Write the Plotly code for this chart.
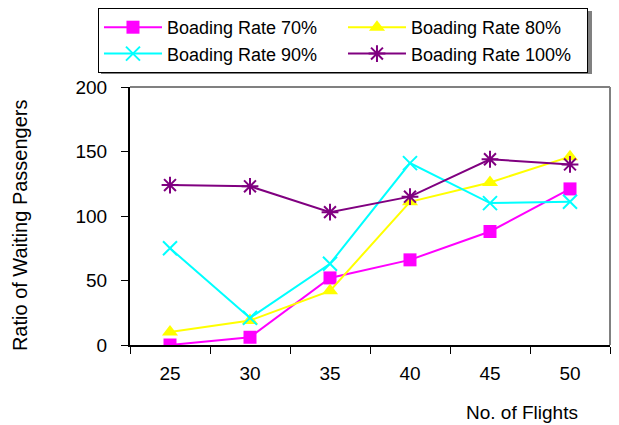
import plotly.graph_objects as go

flights = ["25", "30", "35", "40", "45", "50"]
rate70 = [0, 6, 52, 66, 88, 121]
rate80 = [10, 19, 42, 111, 126, 146]
rate90 = [75, 21, 63, 141, 110, 111]
rate100 = [124, 123, 103, 115, 144, 140]
names = ["Boading Rate 70%", "Boading Rate 80%", "Boading Rate 90%", "Boading Rate 100%"]

FONT = "Liberation Sans, Arial, sans-serif"

fig = go.Figure()
fig.add_trace(go.Scatter(x=flights, y=rate70, name=names[0], mode="lines+markers",
                         line=dict(color="#FF00FF", width=2),
                         marker=dict(symbol="square", size=13, color="#FF00FF")))
fig.add_trace(go.Scatter(x=flights, y=rate80, name=names[1], mode="lines+markers",
                         line=dict(color="#FFFF00", width=2),
                         marker=dict(symbol="triangle-up", size=14, color="#FFFF00")))
fig.add_trace(go.Scatter(x=flights, y=rate90, name=names[2], mode="lines+markers",
                         line=dict(color="#00FFFF", width=2),
                         marker=dict(symbol="x-thin-open", size=14, color="#00FFFF",
                                     line=dict(color="#00FFFF", width=2))))
fig.add_trace(go.Scatter(x=flights, y=rate100, name=names[3], mode="lines+markers",
                         line=dict(color="#800080", width=2),
                         marker=dict(symbol="asterisk-open", size=14, color="#800080",
                                     line=dict(color="#800080", width=2))))

fig.update_layout(
    width=619, height=425,
    margin=dict(l=130, r=9, t=87, b=80, autoexpand=False),
    paper_bgcolor="white", plot_bgcolor="white",
    font=dict(family=FONT, size=19, color="black"),
    showlegend=True,
    legend=dict(orientation="h", x=-0.0667, y=1.3062, xanchor="left", yanchor="top",
                entrywidth=171, itemwidth=58, bgcolor="white", bordercolor="black", borderwidth=1,
                font=dict(family=FONT, size=18), tracegroupgap=0),
    xaxis=dict(type="category", showgrid=False, showline=True, linecolor="black", linewidth=2,
               ticks="outside", ticklen=7, tickcolor="black", tickson="boundaries",
               ticklabelstandoff=10, range=[-0.5, 5.5], zeroline=False),
    yaxis=dict(range=[0, 200], tickvals=[0, 50, 100, 150, 200], showgrid=False,
               showline=True, linecolor="black", linewidth=2, ticks="outside", ticklen=7,
               tickcolor="black", ticklabelstandoff=10, zeroline=False),
    shapes=[
        dict(type="rect", xref="paper", yref="paper", x0=-0.0604, x1=0.9625, y0=1.0504, y1=1.2946,
             fillcolor="#808080", line=dict(width=0), layer="below"),
        dict(type="line", xref="paper", yref="paper", x0=0, x1=1, y0=1, y1=1,
             line=dict(color="#808080", width=2)),
        dict(type="line", xref="paper", yref="paper", x0=1, x1=1, y0=0, y1=1,
             line=dict(color="#808080", width=2)),
    ],
    annotations=[
        dict(text="Ratio of Waiting Passengers", xref="paper", yref="paper",
             x=-0.229, y=0.465, xanchor="center", yanchor="middle",
             textangle=-90, showarrow=False, font=dict(size=20)),
        dict(text="No. of Flights", xref="paper", yref="paper",
             x=0.816, y=-0.26, xanchor="center", yanchor="middle",
             showarrow=False, font=dict(size=19)),
    ],
)

fig.write_html("out.html", config={"displayModeBar": False},
               post_script="document.body.style.margin='0';")
